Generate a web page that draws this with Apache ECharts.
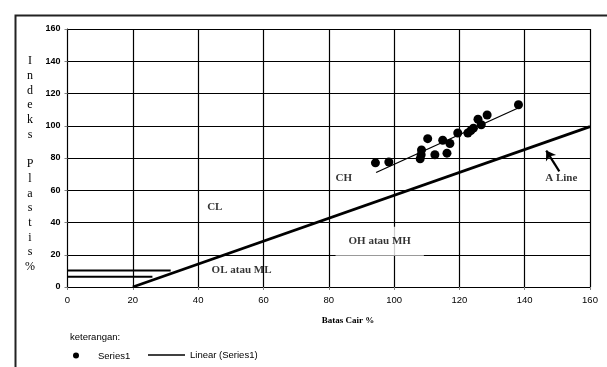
<!DOCTYPE html>
<html>
<head>
<meta charset="utf-8">
<script src="https://cdn.jsdelivr.net/npm/echarts@6/dist/echarts.min.js"></script>
<style>
  html, body { margin: 0; padding: 0; background: #fff; }
  #main { width: 607px; height: 367px; }
</style>
</head>
<body>
<div id="main"></div>
<script>
// data
var batasCair = [94.3, 98.4, 108, 108.3, 108.4, 110.3, 112.5, 114.9, 116.2, 117.1, 119.5, 122.6, 123.5, 124.3, 125.7, 126.7, 128.5, 138.1];
var indeksPlastis = [77, 77.5, 79.5, 82, 85, 92, 82, 91, 83, 89, 95.5, 95.5, 97, 98.5, 104, 100.6, 106.7, 113];
var trendX = [94.5, 138];
var trendY = [71, 111];
var aLineX = [20, 160];
var aLineY = [0, 99.5];
var stripUpper = [[0, 10.2], [31.6, 10.2]];
var stripLower = [[0, 6.3], [26, 6.3]];
var arrow = [[150.6, 71.7], [146.6, 84.6]];
var zoneNames = ['CH', 'CL', 'OL atau ML', 'A Line'];
var zonePos = [[84.6, 67.2], [45.1, 49.6], [53.3, 10.7], [151.2, 67.6]];
var xTicks = [0, 20, 40, 60, 80, 100, 120, 140, 160];
var yTicks = [0, 20, 40, 60, 80, 100, 120, 140, 160];

var serif = "'Liberation Serif', 'Times New Roman', serif";
var sans = "'Liberation Sans', Arial, sans-serif";

var pts = [];
for (var i = 0; i < batasCair.length; i++) {
    pts.push([batasCair[i], indeksPlastis[i]]);
}
var trend = [[trendX[0], trendY[0]], [trendX[1], trendY[1]]];
var aLine = [[aLineX[0], aLineY[0]], [aLineX[1], aLineY[1]]];
var zoneData = [];
for (var j = 0; j < zoneNames.length; j++) {
    zoneData.push({ name: zoneNames[j], value: zonePos[j] });
}

var chart = echarts.init(document.getElementById('main'));
var option = {
    animation: false,
    backgroundColor: '#fff',
    grid: { left: 67.5, right: 17, top: 29, bottom: 80 },
    xAxis: {
        type: 'value', min: xTicks[0], max: xTicks[xTicks.length - 1], interval: 20,
        axisLine: { lineStyle: { color: '#000', width: 1 } },
        axisTick: { show: true, length: 3, lineStyle: { color: '#808080' } },
        axisLabel: { color: '#000', fontFamily: sans, fontSize: 9.5, margin: 8 },
        splitLine: { show: true, lineStyle: { color: '#000', width: 1.2 } }
    },
    yAxis: {
        type: 'value', min: yTicks[0], max: yTicks[yTicks.length - 1], interval: 20,
        axisLine: { show: true, lineStyle: { color: '#000', width: 1 } },
        axisTick: { show: true, length: 3, lineStyle: { color: '#808080' } },
        axisLabel: { color: '#000', fontFamily: sans, fontSize: 9, fontWeight: 'bold', margin: 7 },
        splitLine: { show: true, lineStyle: { color: '#000', width: 1.2 } }
    },
    series: [
        {
            name: 'OH atau MH box', type: 'scatter', symbolSize: 0, z: 3,
            data: [[95.6, 28.3]],
            label: {
                show: true, position: 'inside', formatter: 'OH atau MH',
                fontFamily: serif, fontWeight: 'bold', fontSize: 11, color: '#000',
                backgroundColor: '#fff', padding: [9, 13, 9, 13]
            }
        },
        {
            name: 'A Line', type: 'line', data: aLine, symbol: 'none', z: 4,
            lineStyle: { color: '#000', width: 2.8 }
        },
        {
            name: 'strip1', type: 'line', data: stripUpper, symbol: 'none', z: 4,
            lineStyle: { color: '#000', width: 2 }
        },
        {
            name: 'strip2', type: 'line', data: stripLower, symbol: 'none', z: 4,
            lineStyle: { color: '#000', width: 2 }
        },
        {
            name: 'Linear (Series1)', type: 'line', data: trend, symbol: 'none', z: 5,
            lineStyle: { color: '#000', width: 1.3 }
        },
        {
            name: 'Series1', type: 'scatter', data: pts, symbol: 'circle', symbolSize: 9, z: 6,
            itemStyle: { color: '#000', opacity: 1 }
        },
        {
            name: 'zones', type: 'scatter', symbolSize: 0, z: 6, data: zoneData,
            label: {
                show: true, position: 'inside', formatter: '{b}',
                fontFamily: serif, fontWeight: 'bold', fontSize: 11, color: '#000'
            }
        },
        {
            name: 'arrow', type: 'lines', coordinateSystem: 'cartesian2d', z: 6,
            symbol: ['none', 'arrow'], symbolSize: 9,
            lineStyle: { color: '#000', width: 2.2, opacity: 1 },
            data: [{ coords: arrow }]
        }
    ],
    graphic: [
        {
            type: 'rect', left: 13, top: 13, silent: true,
            shape: { width: 700, height: 500 },
            style: { fill: 'none', stroke: '#222', lineWidth: 2 }
        },
        {
            type: 'text', x: 30, y: 164,
            style: {
                text: 'I\nn\nd\ne\nk\ns\n \nP\nl\na\ns\nt\ni\ns\n%',
                font: '12px ' + serif, fill: '#000', lineHeight: 14.7,
                align: 'center', verticalAlign: 'middle'
            }
        },
        {
            type: 'text', x: 348, y: 321,
            style: {
                text: 'Batas Cair %', font: 'bold 9px ' + serif, fill: '#000',
                align: 'center', verticalAlign: 'middle'
            }
        },
        {
            type: 'text', x: 70, y: 337,
            style: { text: 'keterangan:', font: '9.5px ' + sans, fill: '#000', verticalAlign: 'middle' }
        },
        {
            type: 'circle', shape: { cx: 76, cy: 355.5, r: 3 }, style: { fill: '#000' }
        },
        {
            type: 'text', x: 98, y: 356,
            style: { text: 'Series1', font: '9.5px ' + sans, fill: '#000', verticalAlign: 'middle' }
        },
        {
            type: 'line', shape: { x1: 148, y1: 355, x2: 185, y2: 355 },
            style: { stroke: '#000', lineWidth: 1.5 }
        },
        {
            type: 'text', x: 190, y: 355,
            style: { text: 'Linear (Series1)', font: '9.5px ' + sans, fill: '#000', verticalAlign: 'middle' }
        }
    ]
};
chart.setOption(option);
</script>
</body>
</html>
